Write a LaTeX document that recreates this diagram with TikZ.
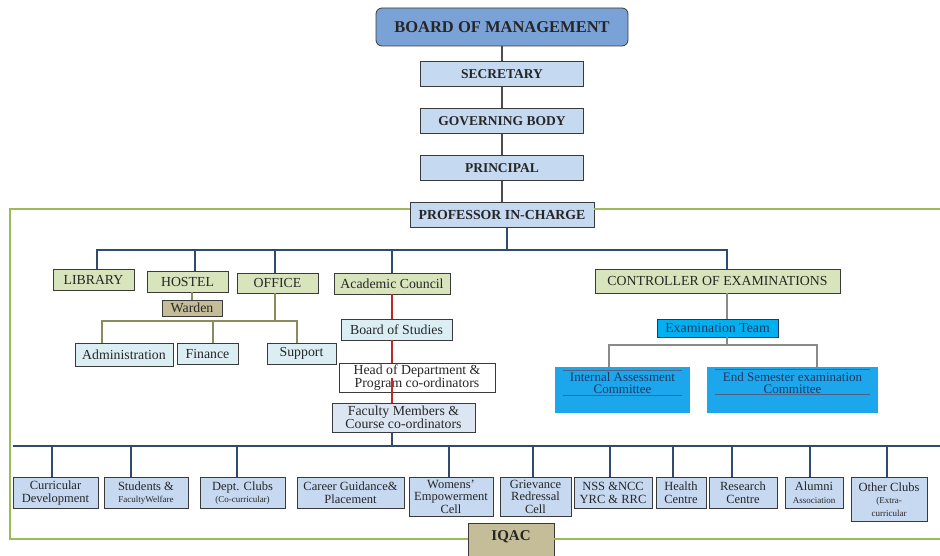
\documentclass[tikz,border=0pt]{standalone}
\usepackage{fontspec}
\setmainfont{Liberation Serif}
\usepackage{xcolor}
\usepackage{tikz}
\usetikzlibrary{positioning}
\definecolor{bomblue}{HTML}{7BA2D6}
\definecolor{topblue}{HTML}{C5D9F1}
\definecolor{olivebox}{HTML}{D8E4BC}
\definecolor{tanbox}{HTML}{C4BD97}
\definecolor{paleblue}{HTML}{DAEEF3}
\definecolor{facblue}{HTML}{DCE6F2}
\definecolor{cellblue}{HTML}{C6D9F1}
\definecolor{exblue}{HTML}{00B0F0}
\definecolor{cmtblue}{HTML}{1CA7EC}
\definecolor{navy}{HTML}{1F3864}
\definecolor{boxline}{HTML}{3A3A3A}
\definecolor{framegreen}{HTML}{9BBB59}
\definecolor{linkblue}{HTML}{2F4B6E}
\definecolor{linkolive}{HTML}{8B8B5E}
\definecolor{linkred}{HTML}{C0272D}
\definecolor{linkgrey}{HTML}{8A8A8A}

\begin{document}
\begin{tikzpicture}[x=1pt,y=-1pt,node distance=47pt,
  box/.style={draw=boxline,line width=0.8pt,inner sep=1pt,align=center,text=black!85,font=\fontsize{13.8}{13}\selectfont},
  top node/.style={box,fill=topblue,minimum width=163pt,minimum height=25pt,font=\fontsize{13.5}{13}\selectfont\bfseries},
  unit node/.style={box,fill=olivebox,minimum height=21pt},
  sub node/.style={box,fill=paleblue,minimum height=21pt},
  cell node/.style={box,fill=cellblue,anchor=north,inner ysep=2pt,minimum height=31pt,font=\fontsize{12.5}{12.5}\selectfont},
  cmt node/.style={fill=cmtblue,anchor=north,inner ysep=4pt,text height=22pt,text depth=16pt,align=center,text=navy,font=\fontsize{13}{12}\selectfont},
  link/.style={draw=linkblue,line width=2pt},
  top link/.style={draw=black!70,line width=1.5pt},
  olive link/.style={draw=linkolive,line width=1.6pt},
  red link/.style={draw=linkred,line width=1.6pt},
  grey link/.style={draw=linkgrey,line width=1.6pt},
  frame/.style={draw=framegreen,line width=2pt},
  cmt rule/.style={draw=navy!80,line width=0.6pt},
  small/.style={font=\fontsize{9}{10}\selectfont}]
  \useasboundingbox (0,0) rectangle (940,556);

  \node[box,fill=bomblue,rounded corners=6pt,minimum width=252pt,minimum height=38pt,font=\fontsize{16.5}{16}\selectfont\bfseries] (0) at (502,27) {BOARD OF MANAGEMENT};
  \node[top node] (1) [below of=0] {SECRETARY};
  \node[top node] (2) [below of=1] {GOVERNING BODY};
  \node[top node] (3) [below of=2] {PRINCIPAL};
  \node[top node,minimum width=184pt,font=\fontsize{13.8}{13}\selectfont\bfseries] (4) [below of=3] {PROFESSOR IN-CHARGE};

  \node[unit node,minimum width=81pt] (5) at (93.5,279.5) {LIBRARY};
  \node[unit node,minimum width=81pt] (6) at (187.5,281.5) {HOSTEL};
  \node[unit node,minimum width=81pt,minimum height=20pt] (7) at (277.5,283) {OFFICE};
  \node[unit node,minimum width=116pt] (8) at (392,283.5) {Academic Council};
  \node[unit node,minimum width=245pt,minimum height=24pt] (9) at (717.5,281) {CONTROLLER OF EXAMINATIONS};

  \node[box,fill=tanbox,minimum width=60pt,minimum height=16pt,inner sep=0pt] (10) at (192,308) {Warden};
  \node[sub node,minimum width=98pt,minimum height=23pt] (11) at (124,354.5) {Administration};
  \node[sub node,minimum width=61pt] (12) at (207.5,353.5) {Finance};
  \node[sub node,minimum width=69pt] (13) at (301.5,353.5) {Support};
  \node[sub node,minimum width=111pt] (14) at (396.5,329.5) {Board of Studies};
  \node[box,fill=white,minimum width=156pt,minimum height=29pt] (15) at (417,377.5) {Head of Department \&\\Program co-ordinators};
  \node[box,fill=facblue,minimum width=143pt,minimum height=29pt] (16) at (403.5,417.5) {Faculty Members \&\\Course co-ordinators};

  \node[box,fill=exblue,draw=navy,text=navy,minimum width=121pt,minimum height=18pt,inner sep=0pt] (17) at (717.5,328) {Examination Team};
  \node[cmt node,minimum width=135pt] (18) at (622.5,367) {Internal Assessment\\Committee};
  \node[cmt node,minimum width=171pt] (19) at (792.5,367) {End Semester examination\\Committee};

  \node[cell node,minimum width=85pt] (20) at (55.5,477) {Curricular\\Development};
  \node[cell node,minimum width=84pt] (21) at (146,477) {Students \&\\{\small FacultyWelfare}};
  \node[cell node,minimum width=85pt] (22) at (242.5,477) {Dept. Clubs\\{\small (Co-curricular)}};
  \node[cell node,minimum width=107pt] (23) at (350.5,477) {Career Guidance\&\\Placement};
  \node[cell node,minimum width=84pt,minimum height=39pt] (24) at (451,477) {Womens'\\Empowerment\\Cell};
  \node[cell node,minimum width=71pt,minimum height=39pt] (25) at (535.5,477) {Grievance\\Redressal\\Cell};
  \node[cell node,minimum width=78pt] (26) at (613,477) {NSS \&NCC\\YRC \& RRC};
  \node[cell node,minimum width=50pt] (27) at (681,477) {Health\\Centre};
  \node[cell node,minimum width=68pt] (28) at (743,477) {Research\\Centre};
  \node[cell node,minimum width=58pt] (29) at (814,477) {Alumni\\{\small Association}};
  \node[cell node,minimum width=76pt,minimum height=44pt] (30) at (889,477) {Other Clubs\\{\small (Extra-}\\{\small curricular}};

  \node[box,fill=tanbox,anchor=north,minimum width=86pt,inner ysep=7pt,text height=10pt,text depth=30pt,font=\fontsize{15}{15}\selectfont\bfseries] (31) at (511,523) {IQAC};

  \path[top link] (0) edge (1) (1) edge (2) (2) edge (3) (3) edge (4);

  \coordinate (bus1) at (0,250);
  \draw[link] ([xshift=3.5pt]5.north) |- ([xshift=9.5pt]9.north |- bus1) -- ([xshift=9.5pt]9.north);
  \draw[link] ([xshift=5pt]4.south) -- ([xshift=5pt]4.south |- bus1);
  \foreach \n/\s in {6/7.5,7/-2.5,8/0}
    \draw[link] ([xshift=\s pt]\n.north) -- ([xshift=\s pt]\n.north |- bus1);

  \draw[olive link] (10.north) -- (10.north |- 6.south);
  \coordinate (bus4) at (0,321);
  \draw[olive link] ([xshift=-2.5pt]7.south) -- ([xshift=-2.5pt]7.south |- bus4);
  \draw[olive link] ([xshift=-22pt]11.north) |- ([xshift=-4.5pt]13.north |- bus4) -- ([xshift=-4.5pt]13.north);
  \draw[olive link] ([xshift=5.5pt]12.north) -- ([xshift=5.5pt]12.north |- bus4);

  \draw[red link] (8.south) -- (8.south |- 14.north) (8.south |- 14.south) -- (8.south |- 15.north) (8.south |- 15.center) -- (8.south |- 16.north);

  \coordinate (bus3) at (0,345);
  \draw[grey link] ([xshift=9.5pt]9.south) -- ([xshift=9.5pt]9.south |- 17.north);
  \draw[grey link] ([xshift=9.5pt]17.south) -- ([xshift=9.5pt]17.south |- bus3);
  \draw[grey link] ([xshift=-13.5pt]18.north) |- ([xshift=24.5pt]19.north |- bus3) -- ([xshift=24.5pt]19.north);
  \draw[cmt rule] ([xshift=8pt,yshift=-3pt]18.north west) -- ([xshift=-8pt,yshift=-3pt]18.north east);
  \draw[cmt rule] ([xshift=8pt,yshift=-28pt]18.north west) -- ([xshift=-8pt,yshift=-28pt]18.north east);
  \draw[cmt rule] ([xshift=8pt,yshift=-2pt]19.north west) -- ([xshift=-8pt,yshift=-2pt]19.north east);
  \draw[cmt rule] ([xshift=8pt,yshift=-27pt]19.north west) -- ([xshift=-8pt,yshift=-27pt]19.north east);

  \coordinate (bus2l) at (13,446);
  \coordinate (bus2r) at (940,446);
  \draw[link] (bus2l) -- (bus2r);
  \draw[link] ([xshift=-11.5pt]16.south) -- ([xshift=-11.5pt]16.south |- bus2l);
  \foreach \n/\s in {20/-3.5,21/-15,22/-5.5,24/-2,25/-2.5,26/-3,27/-8,28/-11,29/-4,30/-2}
    \draw[link] ([xshift=\s pt]\n.north) -- ([xshift=\s pt]\n.north |- bus2l);

  \coordinate (f1) at (10,209);
  \coordinate (f2) at (10,539);
  \coordinate (f3) at (940,209);
  \coordinate (f4) at (940,539);
  \draw[frame] (4.west |- f1) -- (f1) -- (f2) -- (31.west |- f2);
  \draw[frame] (4.east |- f1) -- (f3);
  \draw[frame] (31.east |- f2) -- (f4);
\end{tikzpicture}
\end{document}
